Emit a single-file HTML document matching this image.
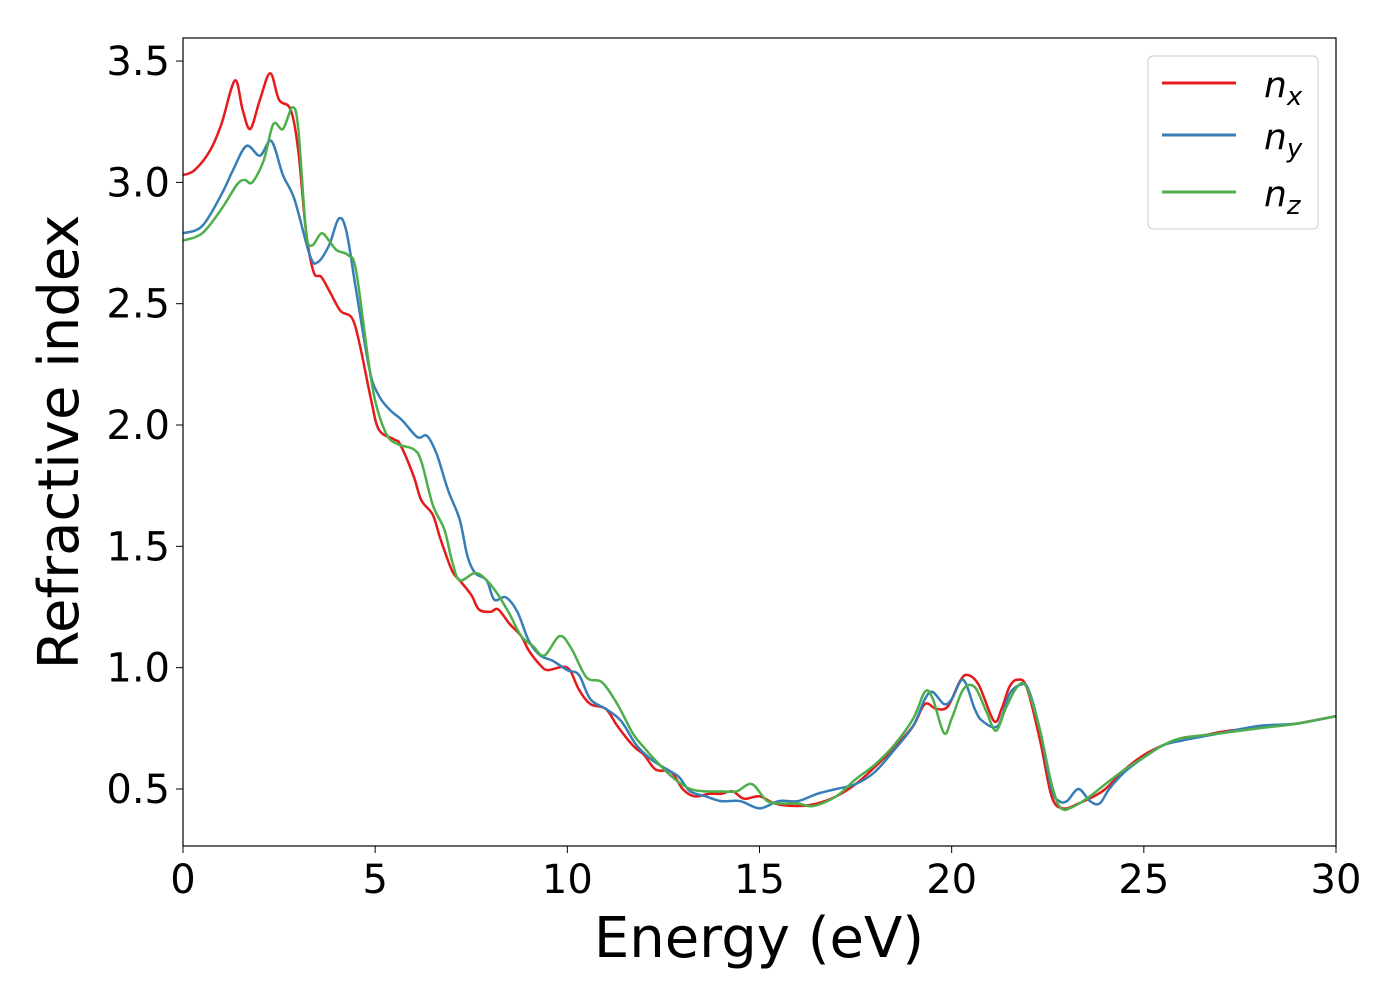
<!DOCTYPE html>
<html><head><meta charset="utf-8"><style>
body{margin:0;background:#fff}
svg text{font-family:"DejaVu Sans","Liberation Sans",sans-serif}
</style></head><body>
<svg id="chart" width="1400" height="1000" xmlns="http://www.w3.org/2000/svg">
<rect width="1400" height="1000" fill="#fff"/>
<g id="series"></g>
<rect x="183" y="38" width="1153" height="808" fill="none" stroke="#000" stroke-width="1.2"/>
<g id="xticks"></g>
<g id="yticks"></g>
<text x="759" y="957" font-size="56" text-anchor="middle">Energy (eV)</text>
<text transform="translate(78,442) rotate(-90)" font-size="56" text-anchor="middle">Refractive index</text>
<g>
<rect x="1148" y="56" width="170" height="173" rx="5" fill="#fff" stroke="#ccc" stroke-width="1"/>
<line x1="1162" y1="83" x2="1236" y2="83" stroke="#e41a1c" stroke-width="3"/>
<text x="1264" y="97" font-size="36" font-style="italic">n<tspan font-size="26" dy="8">x</tspan></text>
<line x1="1162" y1="135" x2="1236" y2="135" stroke="#377eb8" stroke-width="3"/>
<text x="1264" y="149" font-size="36" font-style="italic">n<tspan font-size="26" dy="8">y</tspan></text>
<line x1="1162" y1="192" x2="1236" y2="192" stroke="#4daf4a" stroke-width="3"/>
<text x="1264" y="206" font-size="36" font-style="italic">n<tspan font-size="26" dy="8">z</tspan></text>
</g>
</svg>
<script>
const xTicks=[0,5,10,15,20,25,30];
const yTicks=[0.5,1.0,1.5,2.0,2.5,3.0,3.5];
const eX=[0,0.3,0.7,1.0,1.35,1.55,1.75,2.0,2.27,2.5,2.8,3.0,3.2,3.4,3.6,3.85,4.1,4.4,4.6,4.9,5.1,5.5,5.65,6.0,6.2,6.5,6.7,7.0,7.2,7.5,7.7,8.0,8.2,8.5,8.8,9.0,9.3,9.5,10.0,10.3,10.6,11.0,11.3,11.7,12.0,12.3,12.7,13.0,13.3,13.7,14.0,14.3,14.6,15.0,15.4,16.0,16.5,17.0,17.5,18.0,18.5,19.0,19.3,19.6,19.9,20.2,20.4,20.7,21.1,21.3,21.5,21.7,21.95,22.3,22.6,22.9,23.3,23.7,24.0,24.5,25.0,25.5,26.0,26.5,27.0,27.5,28.0,28.5,29.0,29.5,30.0];
const nX=[3.03,3.05,3.13,3.24,3.42,3.30,3.22,3.34,3.45,3.34,3.30,3.13,2.80,2.63,2.61,2.54,2.47,2.44,2.33,2.10,1.98,1.94,1.92,1.79,1.69,1.63,1.53,1.40,1.36,1.30,1.24,1.23,1.24,1.18,1.13,1.07,1.01,0.99,1.0,0.91,0.85,0.83,0.76,0.68,0.64,0.58,0.57,0.50,0.47,0.48,0.48,0.49,0.46,0.47,0.44,0.43,0.44,0.47,0.52,0.59,0.67,0.76,0.85,0.83,0.84,0.94,0.97,0.93,0.78,0.83,0.92,0.95,0.92,0.70,0.47,0.42,0.44,0.47,0.50,0.58,0.64,0.68,0.71,0.72,0.735,0.745,0.755,0.76,0.77,0.785,0.80];
const eY=[0,0.5,1.0,1.3,1.65,2.0,2.3,2.6,2.9,3.3,3.5,3.8,4.05,4.25,4.5,4.85,5.1,5.4,5.7,6.1,6.35,6.6,6.9,7.2,7.4,7.6,7.9,8.1,8.4,8.7,9.0,9.3,9.6,10.0,10.3,10.6,11.0,11.4,11.8,12.2,12.6,12.9,13.2,13.6,14.0,14.5,15.0,15.5,16.0,16.5,17.0,17.5,18.0,18.5,19.0,19.3,19.5,19.8,20.0,20.3,20.6,20.8,21.2,21.5,21.8,22.0,22.3,22.6,22.8,23.0,23.3,23.6,23.85,24.1,24.5,25.0,25.5,26.0,27.0,28.0,29.0,30.0];
const nY=[2.79,2.82,2.95,3.05,3.15,3.11,3.17,3.03,2.93,2.70,2.67,2.74,2.85,2.80,2.56,2.23,2.12,2.06,2.02,1.95,1.955,1.88,1.73,1.61,1.46,1.39,1.36,1.28,1.29,1.23,1.11,1.05,1.03,0.99,0.97,0.87,0.83,0.78,0.68,0.62,0.58,0.55,0.49,0.47,0.45,0.45,0.42,0.45,0.45,0.48,0.50,0.52,0.57,0.66,0.76,0.87,0.90,0.85,0.87,0.95,0.83,0.78,0.76,0.89,0.93,0.91,0.74,0.50,0.45,0.45,0.50,0.45,0.44,0.50,0.57,0.63,0.68,0.70,0.73,0.76,0.77,0.80];
const eZ=[0,0.5,1.0,1.4,1.6,1.8,2.1,2.35,2.6,2.85,3.0,3.2,3.35,3.6,3.8,4.0,4.3,4.5,4.8,5.0,5.3,5.6,6.0,6.2,6.5,6.8,7.0,7.2,7.6,7.9,8.2,8.5,8.8,9.1,9.4,9.8,10.1,10.5,10.9,11.3,11.7,12.0,12.4,12.8,13.2,13.6,14.0,14.4,14.8,15.2,15.6,16.0,16.4,17.0,17.5,18.0,18.5,19.0,19.3,19.5,19.8,20.0,20.3,20.6,20.9,21.15,21.4,21.7,21.95,22.3,22.6,22.85,23.2,23.6,24.0,24.5,25.0,25.5,26.0,27.0,28.0,29.0,30.0];
const nZ=[2.76,2.79,2.89,2.99,3.01,3.00,3.09,3.24,3.22,3.31,3.22,2.80,2.74,2.79,2.76,2.72,2.70,2.64,2.29,2.10,1.96,1.92,1.90,1.85,1.67,1.57,1.44,1.36,1.39,1.36,1.30,1.22,1.13,1.09,1.05,1.13,1.08,0.96,0.94,0.85,0.73,0.67,0.60,0.54,0.50,0.49,0.49,0.49,0.52,0.45,0.44,0.44,0.43,0.47,0.54,0.60,0.68,0.79,0.90,0.875,0.73,0.79,0.91,0.92,0.82,0.74,0.83,0.92,0.92,0.74,0.52,0.42,0.43,0.47,0.52,0.58,0.63,0.68,0.71,0.73,0.75,0.77,0.80];

const NS='http://www.w3.org/2000/svg';
const X0=183,X1=1336,Y0=846,Y1=38,xMin=0,xMax=30,yMin=0.265,yMax=3.595;
const sx=v=>X0+(v-xMin)/(xMax-xMin)*(X1-X0);
const sy=v=>Y0-(v-yMin)/(yMax-yMin)*(Y0-Y1);
function pathFor(xs,ys){
  const p=xs.map((x,i)=>[sx(x),sy(ys[i])]);
  let d='M'+p[0][0].toFixed(1)+','+p[0][1].toFixed(1);
  for(let i=0;i<p.length-1;i++){
    const a=p[Math.max(i-1,0)],b=p[i],c=p[i+1],e=p[Math.min(i+2,p.length-1)];
    const c1=[b[0]+(c[0]-a[0])/6,b[1]+(c[1]-a[1])/6],c2=[c[0]-(e[0]-b[0])/6,c[1]-(e[1]-b[1])/6];
    d+='C'+c1[0].toFixed(1)+','+c1[1].toFixed(1)+' '+c2[0].toFixed(1)+','+c2[1].toFixed(1)+' '+c[0].toFixed(1)+','+c[1].toFixed(1);
  }
  return d;
}
const g=document.getElementById('series');
[[eX,nX,'#e41a1c','line-nx'],[eY,nY,'#377eb8','line-ny'],[eZ,nZ,'#4daf4a','line-nz']].forEach(s=>{
  const el=document.createElementNS(NS,'path');
  el.setAttribute('d',pathFor(s[0],s[1]));
  el.setAttribute('fill','none');el.setAttribute('stroke',s[2]);el.setAttribute('stroke-width','2.5');
  
  
  g.appendChild(el);
});
const xg=document.getElementById('xticks');
xTicks.forEach(t=>{
  const l=document.createElementNS(NS,'line');
  l.setAttribute('x1',sx(t));l.setAttribute('x2',sx(t));l.setAttribute('y1',846);l.setAttribute('y2',853);l.setAttribute('stroke','#000');
  
  
  xg.appendChild(l);
  const tx=document.createElementNS(NS,'text');
  tx.setAttribute('x',sx(t));tx.setAttribute('y',893);tx.setAttribute('font-size','40');tx.setAttribute('text-anchor','middle');
  tx.textContent=t;
  
  
  xg.appendChild(tx);
});
const yg=document.getElementById('yticks');
yTicks.forEach(t=>{
  const l=document.createElementNS(NS,'line');
  l.setAttribute('x1',176);l.setAttribute('x2',183);l.setAttribute('y1',sy(t));l.setAttribute('y2',sy(t));l.setAttribute('stroke','#000');
  
  
  yg.appendChild(l);
  const tx=document.createElementNS(NS,'text');
  tx.setAttribute('x',170);tx.setAttribute('y',sy(t)+14);tx.setAttribute('font-size','40');tx.setAttribute('text-anchor','end');
  tx.textContent=t.toFixed(1);
  
  
  yg.appendChild(tx);
});
</script>
</body></html>
